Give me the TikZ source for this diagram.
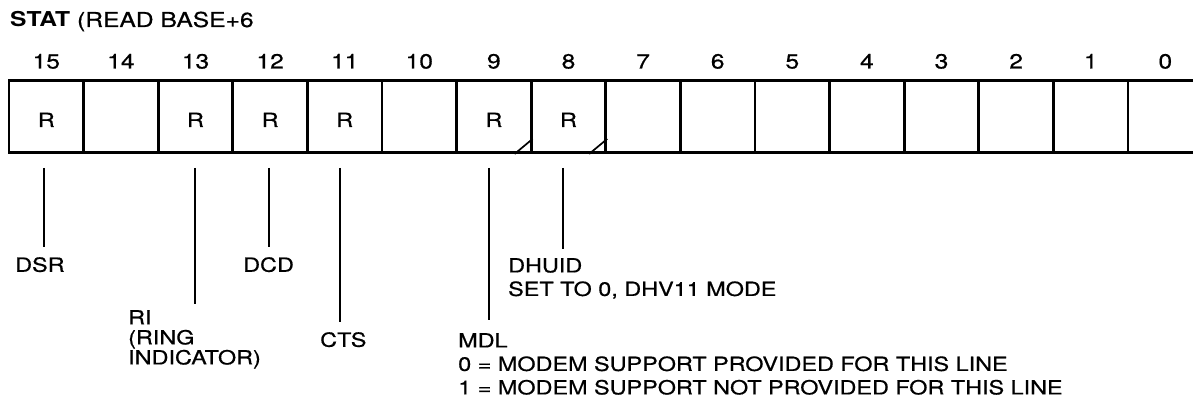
\documentclass[tikz,border=0pt]{standalone}
\usepackage{fontspec}
\setmainfont{TeX Gyre Heros}[FakeStretch=1.2, UprightFeatures={FakeBold=0.6}]
\newcommand{\lblfont}{\fontsize{19.5}{23.5}\selectfont}
\newcommand{\numfont}{\fontsize{20.5}{24}\selectfont}
\begin{document}
\begin{tikzpicture}[x=1pt,y=-1pt,
  cell/.style={draw, line width=2.8pt, minimum width=74.6pt, minimum height=72pt,
    inner sep=0pt, text height=21pt, text depth=0pt, font=\lblfont},
  bitnum/.style={anchor=base, inner sep=0pt, font=\numfont},
  lbl/.style={anchor=north west, inner sep=0pt, align=left, font=\lblfont},
  leader/.style={line width=1.7pt, shorten >=10pt},
  slashmark/.style={line width=1.7pt}]
\useasboundingbox (0,0) rectangle (1193,406);
% title
\node[anchor=base west, inner sep=0pt, font=\numfont] (title) at (10,27) {\textbf{STAT} (READ BASE+6};
% register cells and bit numbers
\foreach \b/\t in {15/R,14/,13/R,12/R,11/R,10/,9/R,8/R,7/,6/,5/,4/,3/,2/,1/,0/} {
  \pgfmathsetmacro\cx{9+(15-\b+0.5)*74.6}
  \node[cell] (b\b) at (\cx,116.5) {\t};
  \node[bitnum] (n\b) at (\cx,68.5) {\b};
}
% slash marks in bits 9 and 8
\draw[slashmark] ([xshift=-18pt]b9.south east) -- ([yshift=15pt]b9.south east);
\draw[slashmark] ([xshift=-18pt]b8.south east) -- ([yshift=15pt]b8.south east);
% labels
\node[lbl] (dsr) at (15,257) {DSR};
\node[lbl] (ri) at (128,310) {RI\\[-3.5pt](RING\\[-3.5pt]INDICATOR)};
\node[lbl] (dcd) at (243,257) {DCD};
\node[lbl] (cts) at (320,332) {CTS};
\node[lbl] (mdl) at (458,333) {MDL\\0 = MODEM SUPPORT PROVIDED FOR THIS LINE\\1 = MODEM SUPPORT NOT PROVIDED FOR THIS LINE};
\node[lbl] (dhuid) at (508,258) {DHUID\\SET TO 0, DHV11 MODE};
% leader lines
\coordinate (l15) at ([xshift=-2.3pt,yshift=-14pt]b15.south);
\coordinate (l13) at ([xshift=-0.5pt,yshift=-14pt]b13.south);
\coordinate (l12) at ([xshift=-1pt,yshift=-14pt]b12.south);
\coordinate (l11) at ([xshift=-4.7pt,yshift=-14pt]b11.south);
\coordinate (l9) at ([xshift=-4.9pt,yshift=-14pt]b9.south);
\coordinate (l8) at ([xshift=-5.5pt,yshift=-14pt]b8.south);
\draw[leader] (l15) -- (l15 |- dsr.north);
\draw[leader, shorten >=6pt] (l13) -- (l13 |- ri.north);
\draw[leader] (l12) -- (l12 |- dcd.north);
\draw[leader] (l11) -- (l11 |- cts.north);
\draw[leader, shorten >=13pt] (l9) -- (l9 |- mdl.north);
\draw[leader, shorten >=9pt] (l8) -- (l8 |- dhuid.north);
\end{tikzpicture}
\end{document}
